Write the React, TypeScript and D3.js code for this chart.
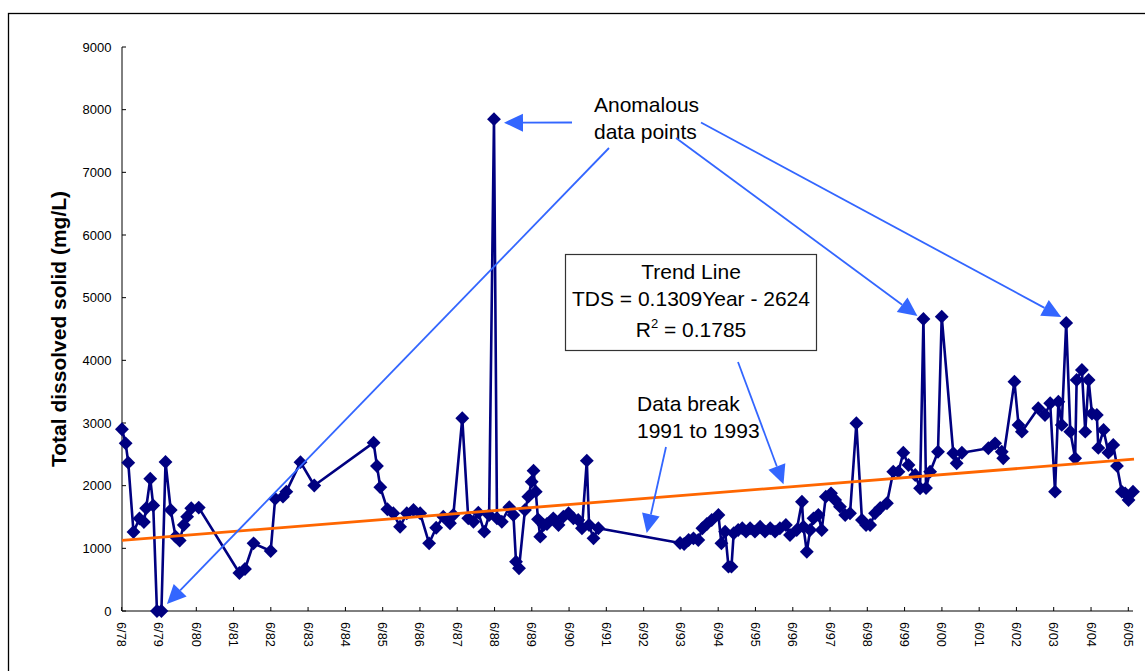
import React from "react";
import * as d3 from "d3";

// ---- data (decimal year, TDS mg/L) ----
const sampleYears = [
  1978.42, 1978.52, 1978.59, 1978.73, 1978.89, 1979.01, 1979.07, 1979.18, 1979.26, 1979.36,
  1979.48, 1979.59, 1979.73, 1979.86, 1979.97, 1980.08, 1980.17, 1980.28, 1980.48, 1981.57,
  1981.72, 1981.95, 1982.41, 1982.53, 1982.74, 1982.83, 1983.21, 1983.58, 1985.17, 1985.26,
  1985.35, 1985.54, 1985.70, 1985.88, 1986.06, 1986.24, 1986.42, 1986.66, 1986.85, 1987.04,
  1987.22, 1987.31, 1987.55, 1987.71, 1987.85, 1987.98, 1988.14, 1988.27, 1988.40, 1988.48,
  1988.61, 1988.81, 1988.92, 1988.99, 1989.07, 1989.23, 1989.32, 1989.41, 1989.46, 1989.52,
  1989.58, 1989.64, 1989.73, 1989.82, 1989.99, 1990.13, 1990.26, 1990.40, 1990.53, 1990.66,
  1990.76, 1990.89, 1990.95, 1991.07, 1991.20, 1993.39, 1993.50, 1993.62, 1993.75, 1993.88,
  1993.99, 1994.11, 1994.24, 1994.42, 1994.50, 1994.60, 1994.69, 1994.77, 1994.83, 1994.95,
  1995.06, 1995.16, 1995.27, 1995.40, 1995.54, 1995.67, 1995.81, 1995.94, 1996.07, 1996.23,
  1996.34, 1996.52, 1996.66, 1996.70, 1996.79, 1996.88, 1996.97, 1997.10, 1997.19, 1997.30,
  1997.44, 1997.55, 1997.68, 1997.82, 1997.95, 1998.12, 1998.27, 1998.38, 1998.49, 1998.62,
  1998.76, 1998.94, 1999.11, 1999.25, 1999.38, 1999.52, 1999.70, 1999.83, 1999.92, 1999.99,
  2000.10, 2000.31, 2000.41, 2000.72, 2000.81, 2000.95, 2001.66, 2001.84, 2002.02, 2002.06,
  2002.36, 2002.47, 2002.56, 2003.00, 2003.18, 2003.32, 2003.45, 2003.54, 2003.63, 2003.75,
  2003.86, 2003.99, 2004.03, 2004.17, 2004.26, 2004.35, 2004.44, 2004.57, 2004.61, 2004.75,
  2004.88, 2005.01, 2005.11, 2005.24, 2005.33, 2005.42, 2005.54,
];
const tdsValues = [
  2900, 2676, 2367, 1261, 1476, 1420, 1639, 2112, 1684, 0,
  0, 2378, 1612, 1186, 1125, 1373, 1505, 1639, 1650, 606,
  670, 1080, 958, 1792, 1824, 1904, 2375, 2003, 2686, 2314,
  1974, 1623, 1559, 1345, 1559, 1612, 1559, 1080, 1329, 1505,
  1400, 1532, 3075, 1479, 1425, 1569, 1266, 1532, 7848, 1479,
  1425, 1655, 1532, 787, 682, 1612, 1824, 2064, 2239, 1904,
  1463, 1186, 1373, 1389, 1479, 1373, 1505, 1559, 1479, 1452,
  1320, 2399, 1373, 1160, 1320, 1085, 1069, 1133, 1160, 1133,
  1320, 1389, 1452, 1532, 1080, 1266, 707, 707, 1240, 1293,
  1320, 1266, 1320, 1266, 1345, 1266, 1320, 1266, 1320, 1373,
  1213, 1293, 1744, 1345, 946, 1293, 1479, 1532, 1293, 1824,
  1878, 1772, 1665, 1532, 1559, 2996, 1452, 1373, 1373, 1559,
  1644, 1719, 2223, 2223, 2526, 2330, 2171, 1958, 4660, 1963,
  2223, 2542, 4697, 2517, 2357, 2526, 2597, 2676, 2542, 2437,
  3660, 2969, 2862, 3235, 3128, 3315, 1904, 3340, 2970, 4597,
  2862, 2437, 3687, 3846, 2862, 3687, 3150, 3128, 2603, 2889,
  2527, 2650, 2315, 1904, 1878, 1771, 1904,
];

const xTickLabels = [
  "6/78", "6/79", "6/80", "6/81", "6/82", "6/83", "6/84", "6/85", "6/86", "6/87",
  "6/88", "6/89", "6/90", "6/91", "6/92", "6/93", "6/94", "6/95", "6/96", "6/97",
  "6/98", "6/99", "6/00", "6/01", "6/02", "6/03", "6/04", "6/05",
];
const yTickValues = [0, 1000, 2000, 3000, 4000, 5000, 6000, 7000, 8000, 9000];

// trend: TDS = slope * (Excel date serial) + intercept
const trendSlope = 0.1309;
const trendIntercept = -2624;

// anomalous sample years (for annotation arrows)
const anomalyZeroYear = 1979.48;
const anomalySpikeYear = 1988.40;
const anomaly1999Year = 1999.92;
const anomaly2003Year = 2003.75;

// ---- helpers ----
const FONT = "'Liberation Sans', Arial, Helvetica, sans-serif";
const yearToDate = (y: number) => {
  const yr = Math.floor(y);
  const a = Date.UTC(yr, 0, 1);
  const b = Date.UTC(yr + 1, 0, 1);
  return new Date(a + (y - yr) * (b - a));
};
const excelSerial = (d: Date) => (d.getTime() - Date.UTC(1899, 11, 30)) / 86400000;
const trendValue = (d: Date) => trendSlope * excelSerial(d) + trendIntercept;

const parseTick = d3.utcParse("%m/%y");

const data = sampleYears.map((yr, i) => ({ date: yearToDate(yr), v: tdsValues[i] }));
const tickDates = xTickLabels.map((l) => parseTick(l) as Date);

const x = d3
  .scaleUtc()
  .domain([tickDates[0], tickDates[tickDates.length - 1]])
  .range([121.7, 1128.3]);
const y = d3.scaleLinear().domain([0, 9000]).range([611, 47]);

const X_AXIS_END = 1133;
const ARROW = "#3366FF";
const NAVY = "#000080";

function Arrow({ x1, y1, x2, y2 }: { x1: number; y1: number; x2: number; y2: number }) {
  const len = 19;
  const hw = 9;
  const dx = x2 - x1;
  const dy = y2 - y1;
  const L = Math.hypot(dx, dy);
  const ux = dx / L;
  const uy = dy / L;
  const bx = x2 - ux * len;
  const by = y2 - uy * len;
  const px = -uy;
  const py = ux;
  const pts = `${x2},${y2} ${bx + px * hw},${by + py * hw} ${bx - px * hw},${by - py * hw}`;
  return (
    <g>
      <line x1={x1} y1={y1} x2={bx} y2={by} stroke={ARROW} strokeWidth={1.8} />
      <polygon points={pts} fill={ARROW} />
    </g>
  );
}

export default function App() {
  const line = d3
    .line<{ date: Date; v: number }>()
    .x((d) => x(d.date))
    .y((d) => y(d.v));
  const diamond = d3.symbol().type(d3.symbolSquare).size(96)() as string;

  const firstDate = data[0].date;
  const lastDate = data[data.length - 1].date;

  const ptOf = (yr: number) => {
    const i = sampleYears.indexOf(yr);
    return { px: x(data[i].date), py: y(data[i].v) };
  };
  const zero = ptOf(anomalyZeroYear);
  const spike = ptOf(anomalySpikeYear);
  const a99 = ptOf(anomaly1999Year);
  const a03 = ptOf(anomaly2003Year);

  const trendTipDate = x.invert(783.5);
  const trendTipY = y(trendValue(trendTipDate)) - 3;

  return (
    <svg
      width={1145}
      height={671}
      style={{ position: "absolute", left: 0, top: 0, background: "#fff" }}
      fontFamily={FONT}
    >
      <rect x={0} y={0} width={1145} height={671} fill="#fff" />
      {/* outer frame */}
      <rect x={8.5} y={13.5} width={1200} height={700} fill="none" stroke="#000" strokeWidth={1.3} />

      {/* y axis */}
      <line x1={122} y1={y(9000)} x2={122} y2={y(0)} stroke="#000" strokeWidth={1} />
      {yTickValues.map((t) => (
        <g key={t}>
          <line x1={122} x2={126} y1={y(t)} y2={y(t)} stroke="#000" />
          <text x={111.5} y={y(t)} dy="0.35em" textAnchor="end" fontSize={13} fill="#000">
            {t}
          </text>
        </g>
      ))}
      {/* x axis */}
      <line x1={122} y1={611} x2={X_AXIS_END} y2={611} stroke="#000" strokeWidth={1} />
      {tickDates.map((d, i) => (
        <g key={xTickLabels[i]}>
          <line x1={x(d)} x2={x(d)} y1={611} y2={607} stroke="#000" />
          <text
            transform={`translate(${x(d)},622) rotate(90)`}
            dy="0.35em"
            textAnchor="start"
            fontSize={12.8}
            fill="#000"
          >
            {xTickLabels[i]}
          </text>
        </g>
      ))}

      {/* y title */}
      <text
        transform="translate(66,329) rotate(-90)"
        textAnchor="middle"
        fontSize={21}
        fontWeight="bold"
        fill="#000"
      >
        Total dissolved solid (mg/L)
      </text>

      {/* data series */}
      <path d={line(data) as string} fill="none" stroke={NAVY} strokeWidth={2.6} strokeLinejoin="round" />
      {data.map((d, i) => (
        <path
          key={i}
          d={diamond}
          transform={`translate(${x(d.date)},${y(d.v)}) rotate(45)`}
          fill={NAVY}
        />
      ))}

      {/* trend line */}
      <line
        x1={x(firstDate)}
        y1={y(trendValue(firstDate))}
        x2={x(lastDate) + 1}
        y2={y(trendValue(lastDate))}
        stroke="#FF6600"
        strokeWidth={2.8}
      />

      {/* annotations */}
      <text x={594} y={112} fontSize={21} fill="#000">Anomalous</text>
      <text x={594} y={139} fontSize={21} fill="#000">data points</text>
      <Arrow x1={572} y1={122.5} x2={spike.px + 10} y2={spike.py + 3.5} />
      <Arrow x1={609} y1={148} x2={zero.px + 5.5} y2={zero.py - 7} />
      <Arrow x1={676} y1={138} x2={a99.px - 6} y2={a99.py - 3} />
      <Arrow x1={701} y1={122.5} x2={a03.px - 5} y2={a03.py - 6} />

      <rect x={565.5} y={254.5} width={251} height={96} fill="#fff" stroke="#333" strokeWidth={1.2} />
      <text x={691} y={279} textAnchor="middle" fontSize={21} fill="#000">Trend Line</text>
      <text x={691} y={306} textAnchor="middle" fontSize={21} fill="#000">TDS = 0.1309Year - 2624</text>
      <text x={691} y={337} textAnchor="middle" fontSize={21} fill="#000">
        R<tspan fontSize={13} dy={-9}>2</tspan>
        <tspan dy={9}> = 0.1785</tspan>
      </text>
      <Arrow x1={738} y1={362} x2={783.5} y2={trendTipY} />

      <text x={637} y={411} fontSize={21} fill="#000">Data break</text>
      <text x={637} y={438} fontSize={21} fill="#000">1991 to 1993</text>
      <Arrow x1={666} y1={447} x2={646.7} y2={533} />
    </svg>
  );
}
